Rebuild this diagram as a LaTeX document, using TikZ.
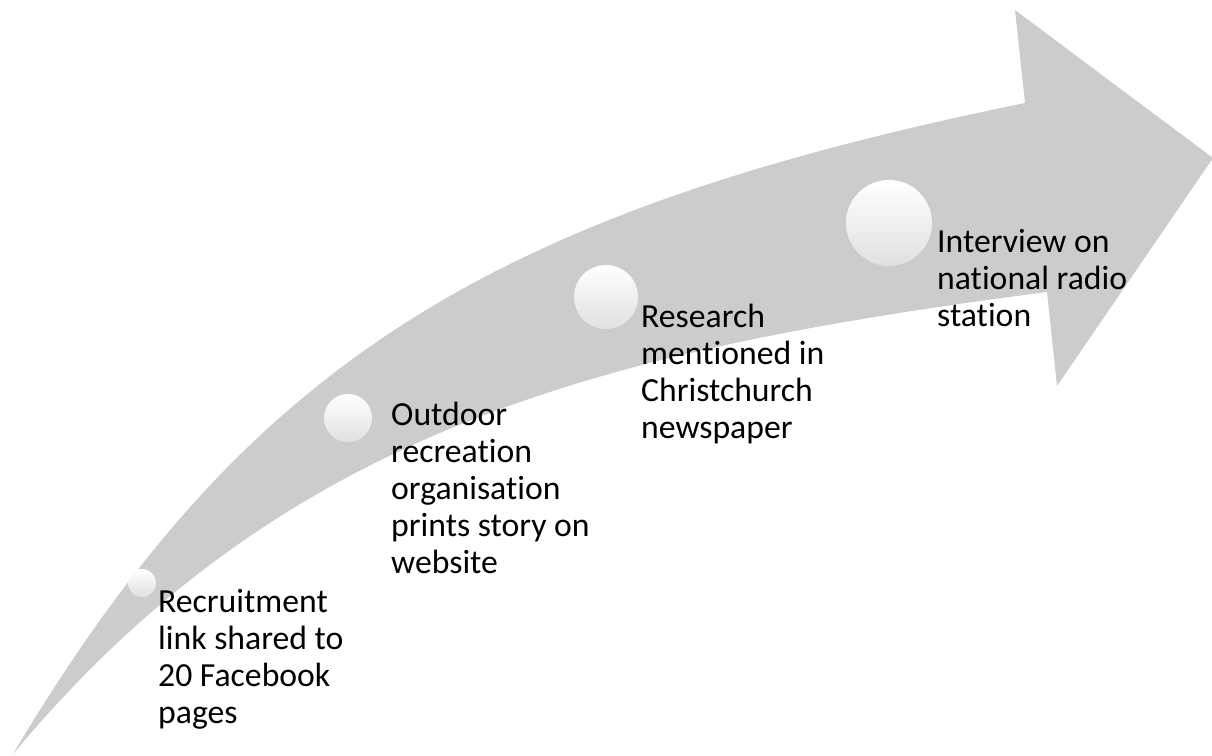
\documentclass[tikz,border=0pt]{standalone}
\usepackage{fontspec}
\setmainfont[Ligatures=NoCommon]{Carlito}
\definecolor{arrowgrey}{HTML}{CCCCCC}
\begin{document}
\begin{tikzpicture}[x=1bp,y=-1bp,
  band/.style={fill=arrowgrey, draw=none},
  milestone/.style={circle, draw=none, inner sep=0pt,
    top color=white, middle color=white, bottom color=black!12},
  caption/.style={anchor=base west, inner sep=0pt, text width=240bp,
    align=flush left, font=\fontsize{33.7bp}{37bp}\selectfont}]
\useasboundingbox (0,0) rectangle (1212,756);

% curved timeline arrow
\fill[band] (13,754) .. controls (245,365) and (486,213) .. (1025,103)
  -- (1015,10) -- (1213,158) -- (1057,386) -- (1047,292)
  .. controls (601,350) and (284,429) .. (13,754) -- cycle;

% milestones along the arrow
\node[milestone, minimum size=28bp] (m1) at (142,583) {};
\node[milestone, minimum size=48bp] (m2) at (348,418) {};
\node[milestone, minimum size=64bp] (m3) at (606,297) {};
\node[milestone, minimum size=86bp] (m4) at (889,223) {};

% milestone captions
\node[caption] (t1) at (158,612) {Recruitment\\link shared to\\20 Facebook\\pages};
\node[caption] (t2) at (391,425) {Outdoor\\recreation\\organisation\\prints story on\\website};
\node[caption] (t3) at (641,327) {Research\\mentioned in\\Christchurch\\newspaper};
\node[caption] (t4) at (937,252) {Interview on\\national radio\\station};
\end{tikzpicture}
\end{document}
